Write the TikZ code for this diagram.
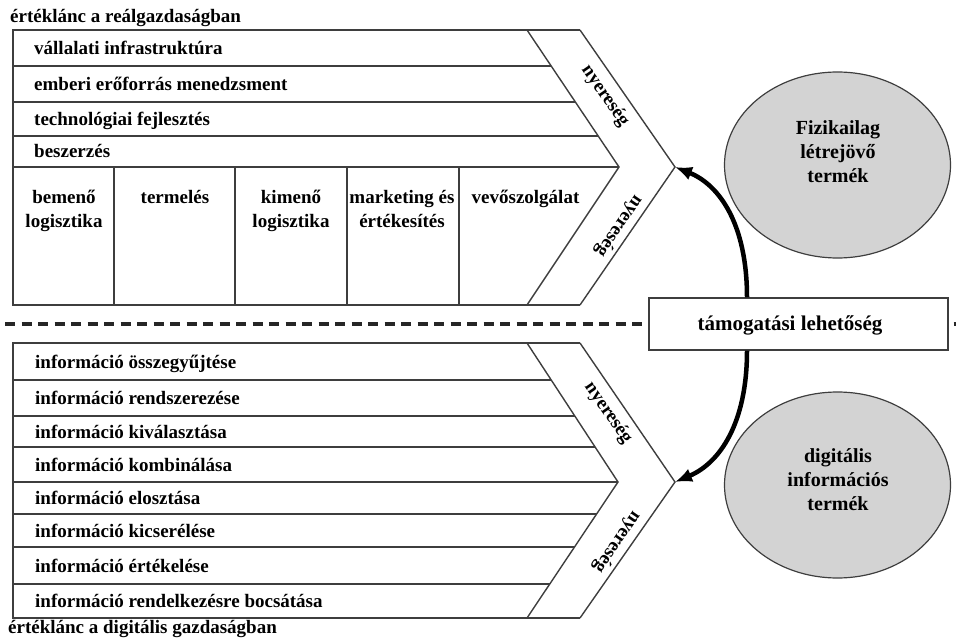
\documentclass[tikz,border=0pt]{standalone}
\usepackage{fontspec}
\setmainfont{Liberation Serif}
\usetikzlibrary{arrows.meta,shapes.geometric}
\definecolor{rule}{RGB}{62,62,62}
\definecolor{bubblegray}{RGB}{211,211,211}
\begin{document}
\begin{tikzpicture}[x=1pt,y=-1pt,
  every node/.style={font=\fontsize{19}{24}\selectfont\bfseries, inner sep=0pt},
  frame/.style={draw=rule, line width=1.4pt, line join=miter},
  rowtext/.style={anchor=base west},
  coltext/.style={anchor=north, align=center},
  bubble/.style={ellipse, draw=rule, line width=1.2pt, fill=bubblegray,
    minimum width=226pt, minimum height=186pt, align=center,
    font=\fontsize{20}{24}\selectfont\bfseries},
  link/.style={line width=4.5pt, -{Latex[length=17pt,width=14pt]}},
  divider/.style={draw=black!85, line width=3.2pt, dash pattern=on 10pt off 6.5pt, dash phase=-5pt}
]
\useasboundingbox (0,0) rectangle (956,639);

% ---------- value chain of the real economy ----------
\coordinate (tipA) at (675,167);
\draw[frame] (580,30) -- (13,30) -- (13,305) -- (580,305);
\draw[frame] (580,30) -- (tipA) -- (580,305);
\draw[frame] (527,30) -- (619,167) -- (527,305);
\draw[frame] (13,66)  -- (551.2,66);
\draw[frame] (13,102) -- (575.3,102);
\draw[frame] (13,136) -- (598.2,136);
\draw[frame] (13,167) -- (619,167);
\foreach \cx in {114,235,347,459} \draw[frame] (\cx,167) -- (\cx,305);

\node[rowtext] (titleA) at (10,22.5) {értéklánc a reálgazdaságban};
\node[rowtext] (infra) at (34,55)   {vállalati infrastruktúra};
\node[rowtext] (hr)    at (34,91)   {emberi erőforrás menedzsment};
\node[rowtext] (tech)  at (34,125.5){technológiai fejlesztés};
\node[rowtext] (proc)  at (34,158)  {beszerzés};

\node[coltext] (inlog)  at (64,190)    {bemenő\\logisztika};
\node[coltext] (oper)   at (175,190)   {termelés};
\node[coltext] (outlog) at (291,190)   {kimenő\\logisztika};
\node[coltext] (mkt)    at (402,190)   {marketing és\\értékesítés};
\node[coltext] (serv)   at (525.5,190) {vevőszolgálat};

\node[rotate=-55.3]  (gainA1) at (605,96)  {nyereség};
\node[rotate=-124.5] (gainA2) at (619,226) {nyereség};

% ---------- value chain of the digital economy ----------
\coordinate (tipB) at (675,482);
\draw[frame] (580,343) -- (13,343) -- (13,618) -- (580,618);
\draw[frame] (580,343) -- (tipB) -- (580,618);
\draw[frame] (527,343) -- (618,482) -- (527,618);
\draw[frame] (13,380) -- (551.2,380);
\draw[frame] (13,416) -- (574.8,416);
\draw[frame] (13,447) -- (595.1,447);
\draw[frame] (13,482) -- (618,482);
\draw[frame] (13,514) -- (596.6,514);
\draw[frame] (13,547) -- (574.5,547);
\draw[frame] (13,584) -- (549.7,584);

\node[rowtext] (collect) at (35,368)   {információ összegyűjtése};
\node[rowtext] (organ)   at (35,404.5) {információ rendszerezése};
\node[rowtext] (select)  at (35,438)   {információ kiválasztása};
\node[rowtext] (combine) at (35,471)   {információ kombinálása};
\node[rowtext] (distrib) at (35,504.5) {információ elosztása};
\node[rowtext] (exch)    at (35,537)   {információ kicserélése};
\node[rowtext] (evalu)   at (35,572)   {információ értékelése};
\node[rowtext] (provide) at (35,607.5) {információ rendelkezésre bocsátása};
\node[rowtext] (titleB)  at (8,633)    {értéklánc a digitális gazdaságban};

\node[rotate=-55.3]  (gainB1) at (608,413) {nyereség};
\node[rotate=-124.5] (gainB2) at (617,542) {nyereség};

% ---------- products ----------
\node[bubble] (phys) at (837.5,165) {};
\node[font=\fontsize{20}{24}\selectfont\bfseries, align=center] (physlbl) at (838,152) {Fizikailag\\létrejövő\\termék};
\node[bubble] (digi) at (837.5,485) {};
\node[font=\fontsize{20}{24}\selectfont\bfseries, align=center] (digilbl) at (838,480) {digitális\\információs\\termék};

% ---------- support opportunity and the dividing line ----------
\node[draw=rule, line width=1.4pt, fill=white, minimum width=299pt, minimum height=52pt] (support) at (798.5,324) {};
\node[font=\fontsize{21}{24}\selectfont\bfseries] (supportlbl) at (790,325) {támogatási lehetőség};
\draw[divider] (0,324) -- (support.west);
\draw[divider] (support.east) -- (956,324);

\draw[link] ([xshift=-51.5pt]support.north) .. controls (747,225) and (720,185) .. (tipA);
\draw[link] ([xshift=-51.5pt]support.south) .. controls (747,423) and (720,463) .. (tipB);
\end{tikzpicture}
\end{document}
